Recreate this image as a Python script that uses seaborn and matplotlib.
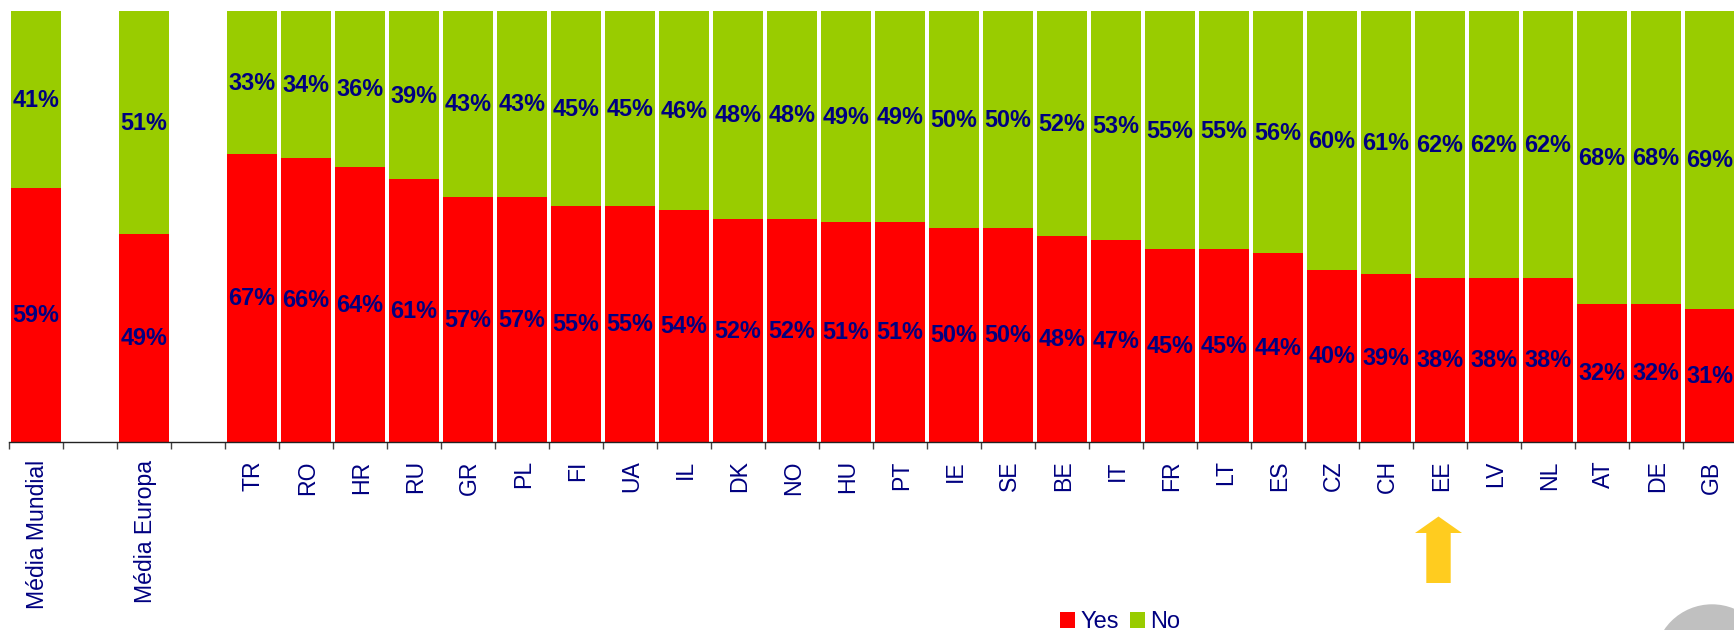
import matplotlib
matplotlib.use("Agg")
import matplotlib.pyplot as plt
import numpy as np
import pandas as pd
import seaborn as sns
from matplotlib.patches import Circle, Patch, Polygon
from matplotlib.transforms import ScaledTranslation

sns.set_style("white")
plt.rcParams["font.family"] = ["Liberation Sans", "DejaVu Sans"]

# Dados (as duas categorias vazias separam as medias)
categorias = ["Média Mundial", " ", "Média Europa", "  ",
              "TR", "RO", "HR", "RU", "GR", "PL", "FI", "UA", "IL", "DK",
              "NO", "HU", "PT", "IE", "SE", "BE", "IT", "FR", "LT", "ES",
              "CZ", "CH", "EE", "LV", "NL", "AT", "DE", "GB"]
# altura medida das barras vermelhas; os rotulos impressos sao arredondados
yes = [58.9, np.nan, 48.3, np.nan,
       66.8, 65.8, 63.8, 60.9, 56.8, 56.8, 54.8, 54.8, 53.7, 51.7,
       51.7, 50.9, 50.9, 49.6, 49.6, 47.8, 46.8, 44.7, 44.7, 43.7,
       39.8, 38.8, 38.0, 38.0, 38.0, 31.9, 31.9, 30.8]
rotulos_yes = [59, None, 49, None,
               67, 66, 64, 61, 57, 57, 55, 55, 54, 52,
               52, 51, 51, 50, 50, 48, 47, 45, 45, 44,
               40, 39, 38, 38, 38, 32, 32, 31]
rotulos_no = [41, None, 51, None,
              33, 34, 36, 39, 43, 43, 45, 45, 46, 48,
              48, 49, 49, 50, 50, 52, 53, 55, 55, 56,
              60, 61, 62, 62, 62, 68, 68, 69]

VERMELHO = "#FF0000"
VERDE = "#99CC00"
AZUL = "#000080"
W, H = 1734, 630

df = pd.DataFrame({"pais": categorias, "yes": yes})
df["total"] = df["yes"].where(df["yes"].isna(), 100)

fig = plt.figure(figsize=(W / 100, H / 100), dpi=100)
# o eixo passa um pouco da borda direita da figura, como no original
ax = fig.add_axes([9 / W, 1 - 441.5 / H, 1728 / W, 430.5 / H])

sns.barplot(data=df, x="pais", y="total", order=categorias, color=VERDE,
            saturation=1, width=0.91, errorbar=None, linewidth=0, ax=ax)
sns.barplot(data=df, x="pais", y="yes", order=categorias, color=VERMELHO,
            saturation=1, width=0.91, errorbar=None, linewidth=0, ax=ax)

ax.set_xlim(-0.5, len(categorias) - 0.5)
ax.set_ylim(0, 100)

# Rotulos de valor no centro de cada segmento
for i, (y_val, r_yes, r_no) in enumerate(zip(yes, rotulos_yes, rotulos_no)):
    if r_yes is None:
        continue
    for centro, texto in [(y_val / 2, r_yes), ((y_val + 100) / 2, r_no)]:
        ax.annotate(f"{texto}%", (i, centro), xytext=(0, -0.7),
                    textcoords="offset points", ha="center", va="center",
                    color=AZUL, fontsize=16.8, fontweight="bold",
                    annotation_clip=False)

ax.set_xlabel("")
ax.set_ylabel("")
ax.set_yticks([])
ax.grid(False)
sns.despine(ax=ax, left=True)
ax.spines["bottom"].set_linewidth(1)
ax.spines["bottom"].set_color("#222222")

# Marcas nas divisas, nomes no centro das categorias
ax.set_xticks(np.arange(len(categorias)))
ax.set_xticklabels(categorias, rotation=90, ha="right", va="center_baseline",
                   rotation_mode="anchor", color=AZUL, fontsize=16.6)
ax.tick_params(axis="x", which="major", length=0, pad=13.5)
ax.set_xticks(np.arange(len(categorias)) - 0.5, minor=True)
ax.tick_params(axis="x", which="minor", length=5, width=1, color="#444444",
               bottom=True)
desvio = ScaledTranslation(-1.2 / 100, 0, fig.dpi_scale_trans)
for rotulo in ax.get_xticklabels():
    rotulo.set_transform(rotulo.get_transform() + desvio)

# Seta amarela sob EE
seta = [(1438.5, 516.5), (1462, 533), (1450.7, 533), (1450.7, 583),
        (1426.3, 583), (1426.3, 533), (1415, 533)]
fig.add_artist(Polygon([(x / W, 1 - y / H) for x, y in seta], closed=True,
                       facecolor="#FFCC1F", edgecolor="none",
                       transform=fig.transFigure))

# Circulo cinza cortado no canto
fig.add_artist(Circle((1712, H - 662), 57.7, facecolor="#C0C0C0",
                      edgecolor="none", transform=None))

# Legenda
handles = [Patch(facecolor=VERMELHO, linewidth=0, label="Yes"),
           Patch(facecolor=VERDE, linewidth=0, label="No")]
fig.legend(handles=handles, ncol=2, loc="lower left", bbox_to_anchor=(1059 / W, -4.5 / H),
           frameon=False, fontsize=17, labelcolor=AZUL, handlelength=0.64,
           handleheight=0.64, handletextpad=0.2, columnspacing=0.5,
           borderpad=0, borderaxespad=0.05)

fig.savefig("out.png", dpi=100)
